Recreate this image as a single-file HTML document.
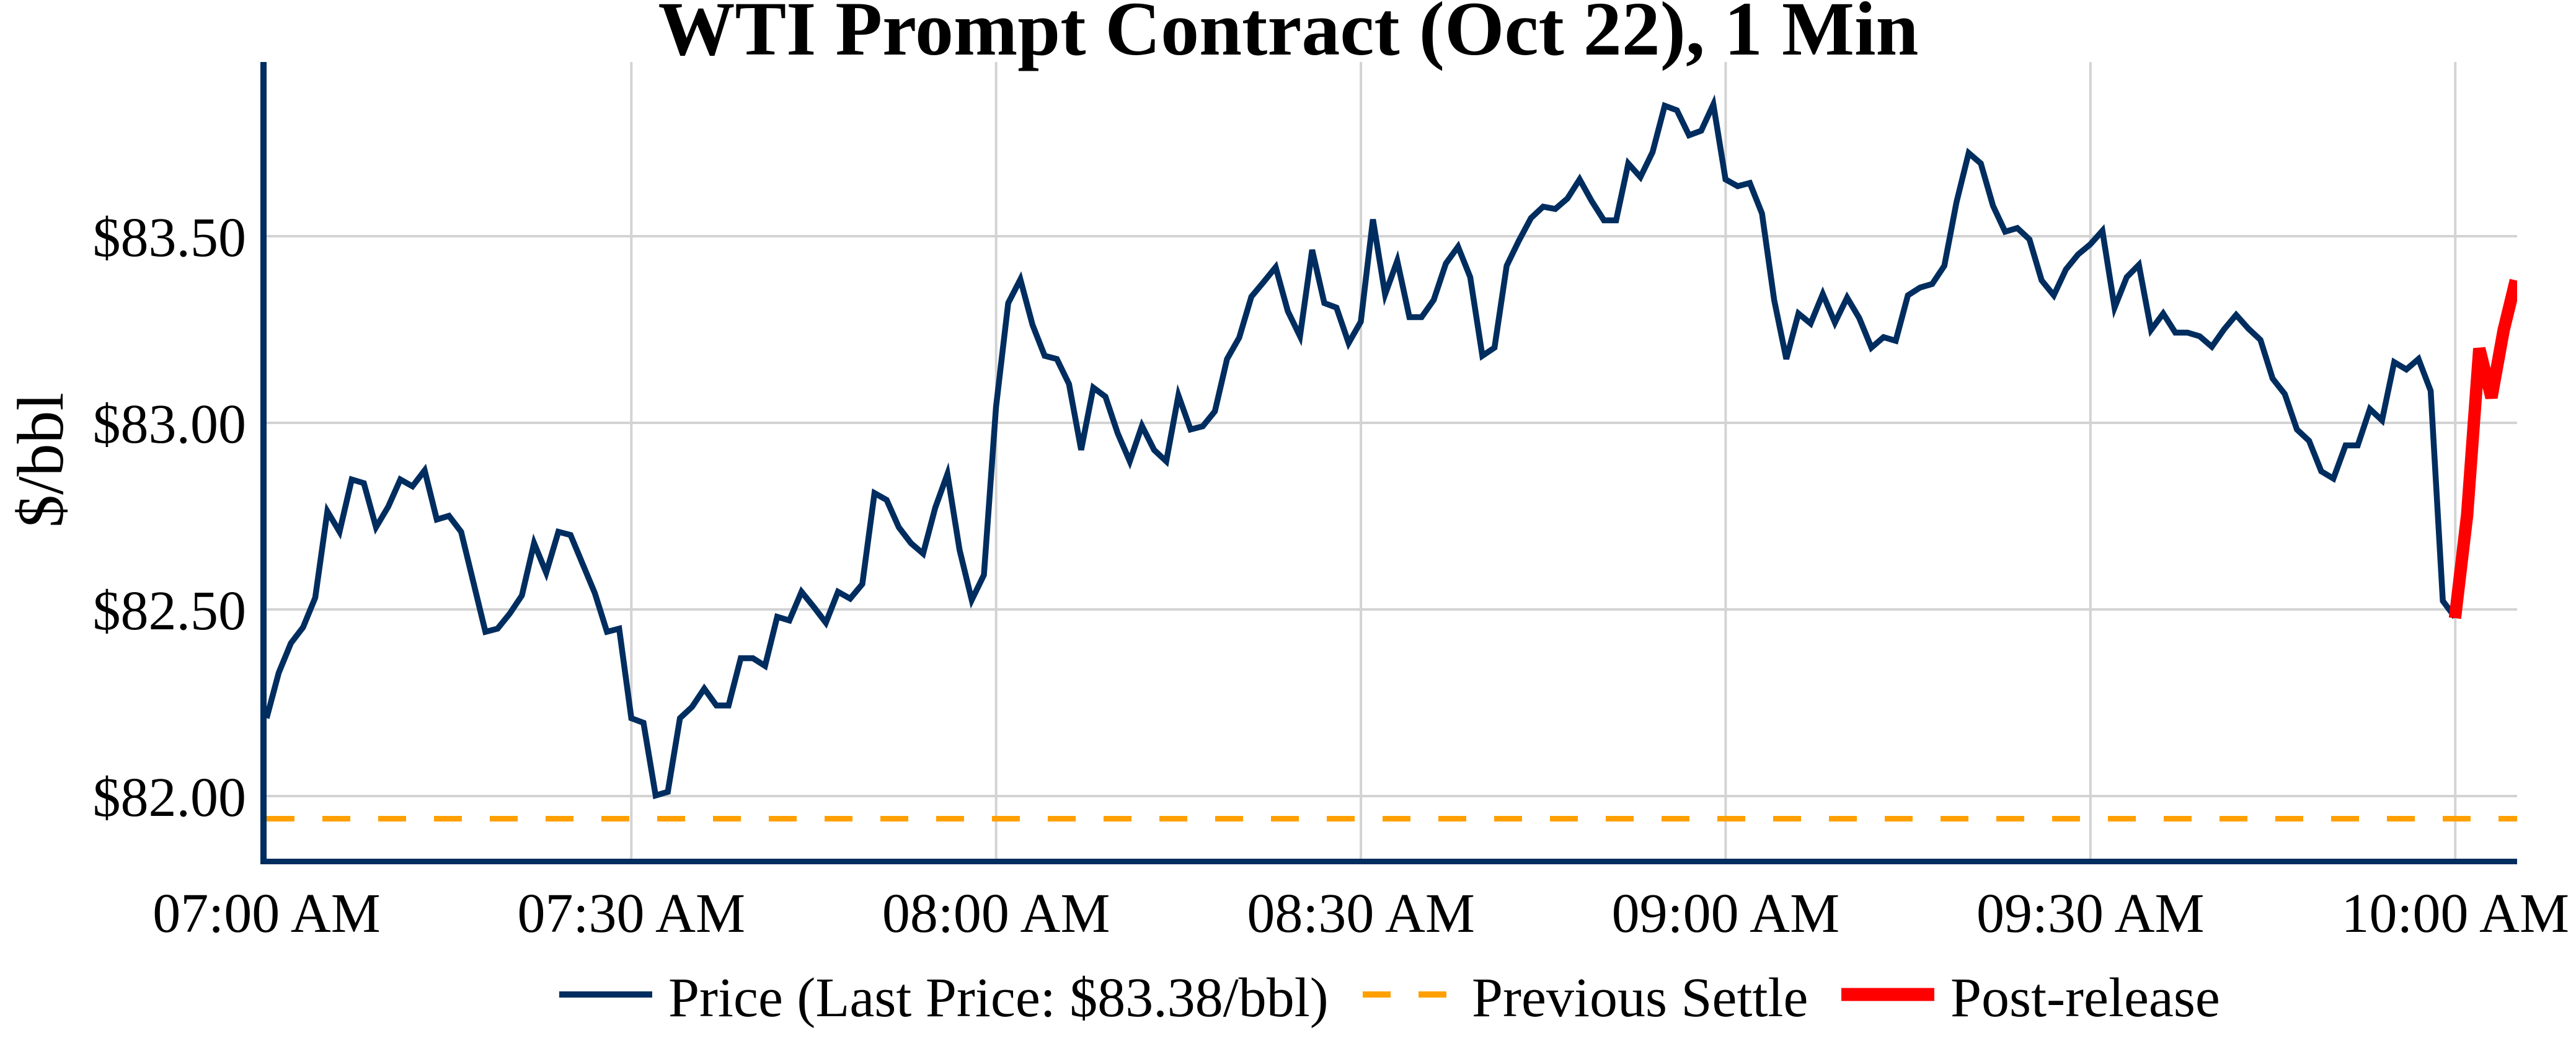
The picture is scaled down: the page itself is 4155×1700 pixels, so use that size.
<!DOCTYPE html>
<html>
<head>
<meta charset="utf-8">
<style>
  html,body{margin:0;padding:0;background:#fff;}
  svg{display:block;}
  text{font-family:"Liberation Serif","Times New Roman",serif;fill:#000;}
</style>
</head>
<body>
<svg xmlns="http://www.w3.org/2000/svg" width="4155" height="1700" viewBox="0 0 4155 1700">
  <rect x="0" y="0" width="4155" height="1700" fill="#ffffff"/>

  <!-- Title -->
  <text x="2078" y="88" text-anchor="middle" font-size="124" font-weight="bold">WTI Prompt Contract (Oct 22), 1 Min</text>

  <!-- Gridlines -->
  <g stroke="#d3d3d3" stroke-width="4">
    <line x1="430" y1="381" x2="4060" y2="381"/>
    <line x1="430" y1="682" x2="4060" y2="682"/>
    <line x1="430" y1="983" x2="4060" y2="983"/>
    <line x1="430" y1="1284" x2="4060" y2="1284"/>
    <line x1="1018.3" y1="100" x2="1018.3" y2="1385"/>
    <line x1="1606.7" y1="100" x2="1606.7" y2="1385"/>
    <line x1="2195.1" y1="100" x2="2195.1" y2="1385"/>
    <line x1="2783.4" y1="100" x2="2783.4" y2="1385"/>
    <line x1="3371.8" y1="100" x2="3371.8" y2="1385"/>
    <line x1="3960.3" y1="100" x2="3960.3" y2="1385"/>
  </g>

  <!-- Previous settle dashed -->
  <line x1="430" y1="1320.5" x2="4060" y2="1320.5" stroke="#FFA000" stroke-width="9" stroke-dasharray="45 45"/>

  <defs>
    <clipPath id="plotclip">
      <rect x="430" y="100" width="3630" height="1285"/>
    </clipPath>
  </defs>

  <g clip-path="url(#plotclip)">
    <g transform="matrix(19.61,0,0,0.7334,430,149.98)">
      <polyline fill="none" stroke="#002D5F" stroke-width="9.5" vector-effect="non-scaling-stroke" points="0,1375 1,1275 2,1210 3,1175 4,1110 5,920 6,965 7,850 8,858 9,955 10,910 11,850 12,865 13,830 14,938 15,930 16,965 17,1075 18,1185 19,1178 20,1145 21,1105 22,990 23,1055 24,965 25,972 26,1036 27,1100 28,1185 29,1178 30,1375 31,1385 32,1545 33,1537 34,1375 35,1350 36,1310 37,1347 38,1347 39,1243 40,1243 41,1260 42,1152 43,1160 44,1097 45,1130 46,1165 47,1097 48,1112 49,1080 50,880 51,895 52,955 53,990 54,1013 55,912 56,838 57,1005 58,1115 59,1060 60,690 61,462 62,410 63,510 64,578 65,585 66,640 67,785 68,648 69,668 70,748 71,810 72,732 73,785 74,810 75,665 76,740 77,733 78,700 79,585 80,538 81,448 82,416 83,383 84,480 85,535 86,345 87,462 88,472 89,550 90,503 91,278 92,443 93,369 94,493 95,493 96,455 97,375 98,338 99,405 100,578 101,560 102,380 103,325 104,275 105,250 106,255 107,232 108,190 109,238 110,280 111,280 112,155 113,185 114,130 115,28 116,38 117,93 118,83 119,25 120,190 121,205 122,198 123,265 124,455 125,585 126,485 127,507 128,442 129,505 130,450 131,495 132,560 133,537 134,545 135,445 136,428 137,420 138,380 139,240 140,132 141,155 142,248 143,305 144,297 145,322 146,412 147,445 148,388 149,355 150,333 151,303 152,472 153,405 154,378 155,521 156,485 157,527 158,527 159,535 160,558 161,520 162,488 163,518 164,543 165,628 166,662 167,740 168,765 169,832 170,848 171,775 172,775 173,695 174,720 175,592 176,608 177,585 178,655 179,1117 180,1153"/>
      <polyline fill="none" stroke="#FF0000" stroke-width="20" vector-effect="non-scaling-stroke" points="180,1155 181,928 182,562 183,670 184,522 185,412"/>
    </g>
  </g>

  <!-- Axis lines -->
  <line x1="425" y1="100" x2="425" y2="1394" stroke="#002D5F" stroke-width="10"/>
  <line x1="420" y1="1389.5" x2="4060" y2="1389.5" stroke="#002D5F" stroke-width="9"/>

  <!-- Y tick labels -->
  <g font-size="90" text-anchor="end">
    <text x="397" y="413">$83.50</text>
    <text x="397" y="714">$83.00</text>
    <text x="397" y="1015">$82.50</text>
    <text x="397" y="1316">$82.00</text>
  </g>

  <!-- X tick labels -->
  <g font-size="90" text-anchor="middle">
    <text x="430" y="1503">07:00 AM</text>
    <text x="1018.3" y="1503">07:30 AM</text>
    <text x="1606.7" y="1503">08:00 AM</text>
    <text x="2195.1" y="1503">08:30 AM</text>
    <text x="2783.4" y="1503">09:00 AM</text>
    <text x="3371.8" y="1503">09:30 AM</text>
    <text x="3960.3" y="1503">10:00 AM</text>
  </g>

  <!-- Y axis title -->
  <text transform="translate(101,742) rotate(-90)" text-anchor="middle" font-size="106">$/bbl</text>

  <!-- Legend -->
  <line x1="902" y1="1604" x2="1052" y2="1604" stroke="#002D5F" stroke-width="10"/>
  <text x="1078" y="1639" font-size="90">Price (Last Price: $83.38/bbl)</text>
  <line x1="2198" y1="1604" x2="2348" y2="1604" stroke="#FFA000" stroke-width="10" stroke-dasharray="45 45"/>
  <text x="2374" y="1639" font-size="90">Previous Settle</text>
  <line x1="2970" y1="1604" x2="3120" y2="1604" stroke="#FF0000" stroke-width="21"/>
  <text x="3146" y="1639" font-size="90">Post-release</text>
</svg>
</body>
</html>
